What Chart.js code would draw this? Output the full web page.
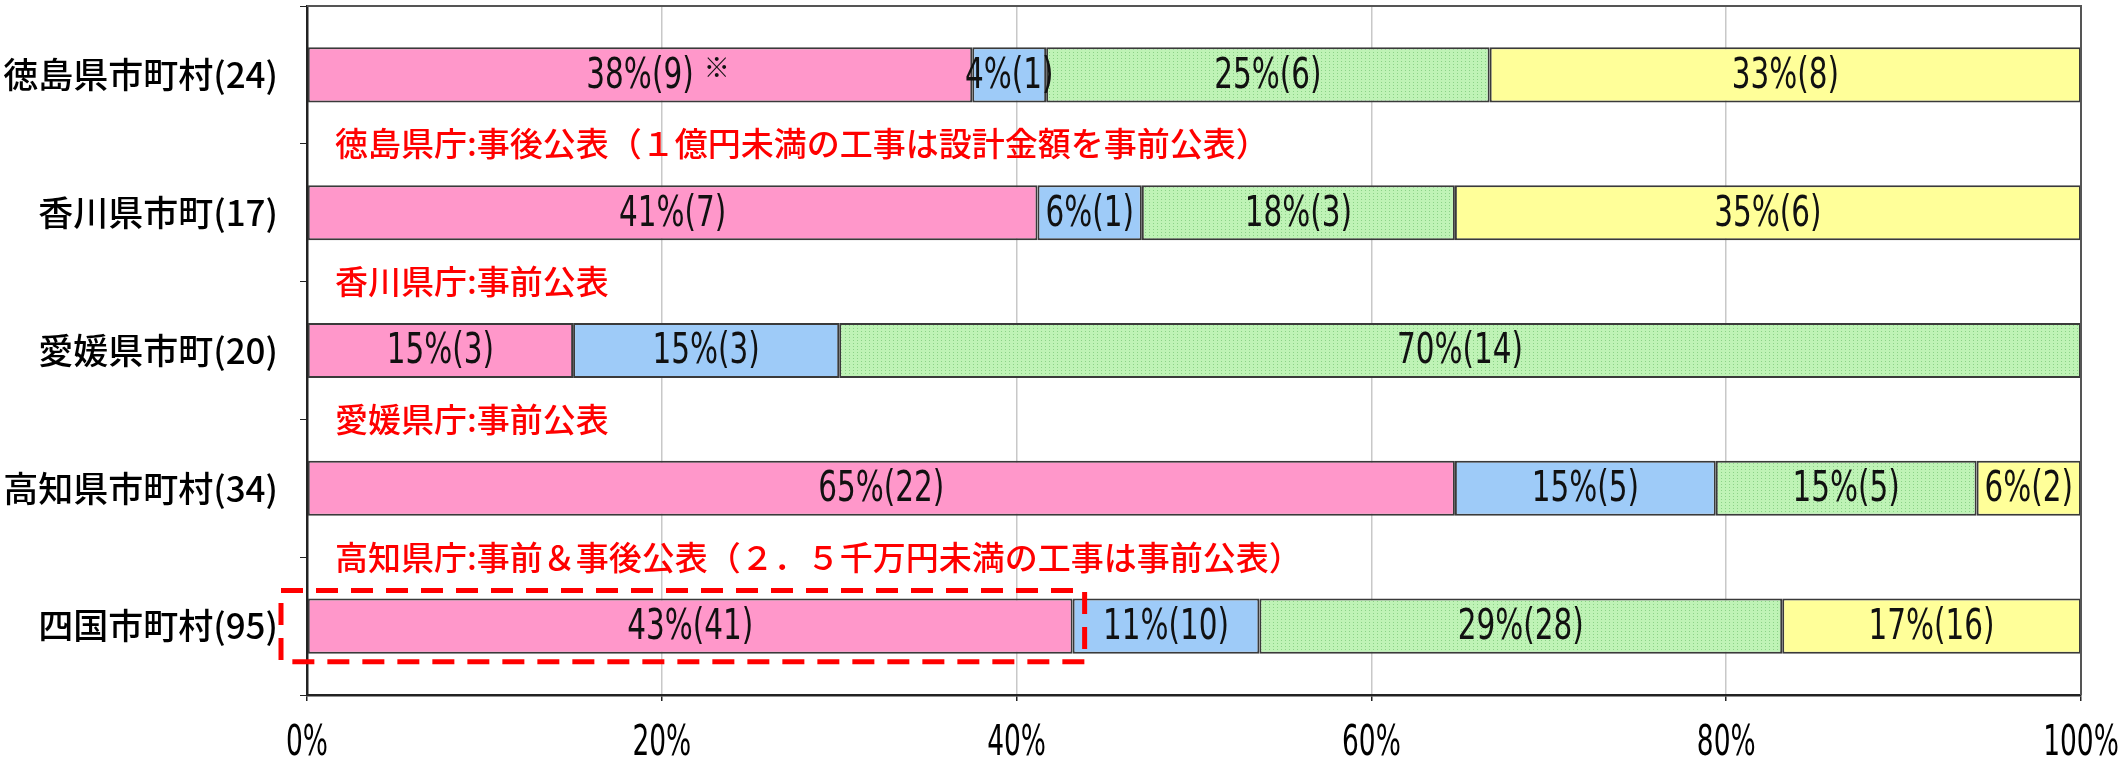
<!DOCTYPE html>
<html lang="ja">
<head>
<meta charset="utf-8">
<title>予定価格の公表時期</title>
<script src="https://cdn.jsdelivr.net/npm/chart.js@4/dist/chart.umd.min.js"></script>
<style>
  html, body { margin: 0; padding: 0; background: #fff; }
  #wrap { width: 2123px; height: 763px; }
</style>
</head>
<body>
<div id="wrap"><canvas id="chart" width="2123" height="763"></canvas></div>
<script>
// 団体区分（市町村数）
const groups = ['徳島県市町村(24)', '香川県市町(17)', '愛媛県市町(20)', '高知県市町村(34)', '四国市町村(95)'];
const totals = [24, 17, 20, 34, 95];

// 公表時期ごとの団体数
const countPink = [9, 7, 3, 22, 41];
const countBlue = [1, 1, 3, 5, 10];
const countGreen = [6, 3, 14, 5, 28];
const countYellow = [8, 6, 0, 2, 16];

// 目盛
const xTicks = [0, 20, 40, 60, 80, 100];

// 県庁の公表時期（各行の間に表示）
const prefNotes = [
    '徳島県庁:事後公表（１億円未満の工事は設計金額を事前公表）',
    '香川県庁:事前公表',
    '愛媛県庁:事前公表',
    '高知県庁:事前＆事後公表（２．５千万円未満の工事は事前公表）'
];

const narrowFont = "'DejaVu Sans Condensed', 'DejaVu Sans', sans-serif";
const cjkFont = "'Noto Sans CJK JP', 'Noto Sans', sans-serif";

function share(counts) {
    return counts.map((c, i) => c / totals[i] * 100);
}

// 緑は細かい点の網掛け
function dotPattern() {
    const c = document.createElement('canvas');
    c.width = 4;
    c.height = 3;
    const g = c.getContext('2d');
    g.fillStyle = '#bff3b6';
    g.fillRect(0, 0, 4, 3);
    g.fillStyle = '#8bd287';
    g.fillRect(1, 1, 1, 1);
    return g.createPattern(c, 'repeat');
}

// 幅を詰めた文字
function narrowText(ctx, text, x, y, sx) {
    ctx.save();
    ctx.translate(x, y);
    ctx.scale(sx, 1);
    ctx.fillText(text, 0, 0);
    ctx.restore();
}

const allCounts = [countPink, countBlue, countGreen, countYellow];

const labelPlugin = {
    id: 'segmentLabels',
    afterDatasetsDraw(chart) {
        const ctx = chart.ctx;
        const area = chart.chartArea;
        ctx.save();

        // 各区分の割合と団体数
        ctx.font = '42px ' + narrowFont;
        ctx.fillStyle = '#111';
        ctx.textAlign = 'center';
        ctx.textBaseline = 'middle';
        chart.data.datasets.forEach((ds, di) => {
            const meta = chart.getDatasetMeta(di);
            meta.data.forEach((bar, i) => {
                const n = allCounts[di][i];
                if (!n) return;
                const text = Math.round(n / totals[i] * 100) + '%(' + n + ')';
                const cx = (bar.x + bar.base) / 2;
                narrowText(ctx, text, cx, bar.y + 2, 0.78);
                if (di === 0 && i === 0) {
                    const w = ctx.measureText(text).width * 0.78;
                    ctx.save();
                    ctx.font = '26px ' + cjkFont;
                    ctx.textAlign = 'left';
                    ctx.fillText('※', cx + w / 2 + 10, bar.y - 8);
                    ctx.restore();
                }
            });
        });

        // 横軸の目盛ラベル
        const x = chart.scales.x;
        ctx.font = '42px ' + narrowFont;
        ctx.fillStyle = '#000';
        xTicks.forEach(v => {
            narrowText(ctx, v + '%', x.getPixelForValue(v), area.bottom + 49, 0.7);
        });

        // 県庁の注記
        const y = chart.scales.y;
        ctx.font = '500 33px ' + cjkFont;
        ctx.fillStyle = '#ff0000';
        ctx.textAlign = 'left';
        prefNotes.forEach((t, i) => {
            const ty = (y.getPixelForValue(i) + y.getPixelForValue(i + 1)) / 2;
            ctx.fillText(t, area.left + 28, ty);
        });

        // 四国全体の事前公表を点線で囲む
        const hb = chart.getDatasetMeta(0).data[4];
        ctx.strokeStyle = '#ff0000';
        ctx.lineWidth = 5;
        ctx.setLineDash([22, 13]);
        ctx.strokeRect(area.left - 26, hb.y - hb.height / 2 - 8, hb.x + 38 - area.left, hb.height + 16);

        // 枠
        ctx.setLineDash([]);
        ctx.strokeStyle = '#555';
        ctx.lineWidth = 2;
        ctx.beginPath();
        ctx.moveTo(area.left, area.top);
        ctx.lineTo(area.right, area.top);
        ctx.lineTo(area.right, area.bottom);
        ctx.stroke();
        ctx.restore();
    }
};

new Chart('chart', {
    type: 'bar',
    data: {
        labels: groups,
        datasets: [
            { data: share(countPink), backgroundColor: '#ff97ca' },
            { data: share(countBlue), backgroundColor: '#9ecbf8' },
            { data: share(countGreen), backgroundColor: dotPattern() },
            { data: share(countYellow), backgroundColor: '#ffff99' }
        ].map(d => Object.assign(d, {
            borderColor: '#3a3a3a',
            borderWidth: 2,
            borderSkipped: false,
            barPercentage: 0.4,
            categoryPercentage: 1.0
        }))
    },
    options: {
        indexAxis: 'y',
        responsive: false,
        animation: false,
        devicePixelRatio: 1,
        layout: { padding: { top: 6, right: 42, left: 0, bottom: 0 } },
        plugins: { legend: { display: false }, tooltip: { enabled: false } },
        scales: {
            x: {
                stacked: true,
                min: 0,
                max: 100,
                afterBuildTicks: s => { s.ticks = xTicks.map(v => ({ value: v })); },
                ticks: { display: false },
                grid: { color: '#c8c8c8', lineWidth: 1.5, tickLength: 6, tickColor: '#222' },
                border: { color: '#222', width: 2.5 },
                afterFit: s => { s.height = 68; s.paddingLeft = 0; s.paddingRight = 0; }
            },
            y: {
                stacked: true,
                ticks: {
                    font: { family: cjkFont, size: 35, weight: 500 },
                    color: '#000',
                    padding: 22
                },
                grid: { drawOnChartArea: false, offset: true, tickLength: 7, tickColor: '#222' },
                border: { color: '#222', width: 2.5 },
                afterFit: s => { s.width = 307; s.paddingTop = 0; s.paddingBottom = 0; }
            }
        }
    },
    plugins: [labelPlugin]
});
</script>
</body>
</html>
